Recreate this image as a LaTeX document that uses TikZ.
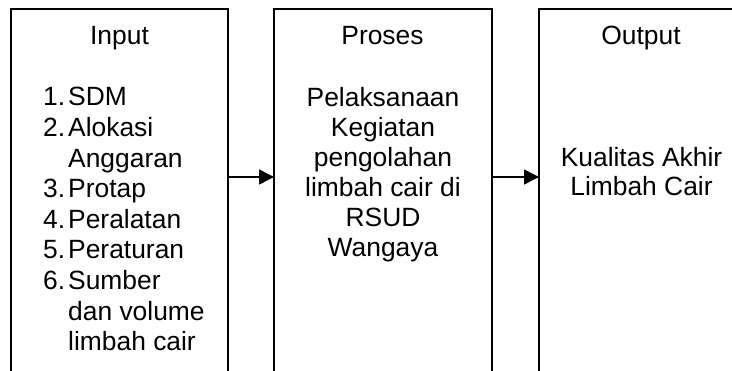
\documentclass[tikz,border=0pt]{standalone}
\usepackage{fontspec}
\setmainfont{Liberation Sans}
\usetikzlibrary{arrows.meta}
\begin{document}
\begin{tikzpicture}[x=1pt,y=-1pt,
  box/.style={draw, line width=1.5pt, outer sep=0pt, inner sep=0pt, anchor=north west, minimum height=400pt},
  txt/.style={inner sep=0pt, font=\fontsize{26.4}{30}\selectfont},
  arr/.style={line width=1.5pt, -{Triangle[length=15pt,width=15pt]}}]
\useasboundingbox (0,0) rectangle (732,371);
\clip (0,0) rectangle (732,371);
\node[box, minimum width=217pt] (in) at (11,9) {};
\node[box, minimum width=218pt] (pro) at (274,9) {};
\node[box, minimum width=230pt] (out) at (539,9) {};
\coordinate (ay) at (0,177);
\draw[arr] (in.east |- ay) -- (pro.west |- ay);
\draw[arr] (pro.east |- ay) -- (out.west |- ay);
% headers
\node[txt, anchor=base] (hin) at (119.5,45) {Input};
\node[txt, anchor=base] (hpro) at (382.5,45) {Proses};
\node[txt, anchor=base] (hout) at (641,45) {Output};
% input list
\foreach \n/\t/\y [count=\i] in {1./SDM/106, 2./Alokasi/136.6, /Anggaran/167.2, 3./Protap/197.8, 4./Peralatan/228.4, 5./Peraturan/259, 6./Sumber/289.6, /dan volume/320.2, /limbah cair/350.8}{
  \node[txt, anchor=base west] (num\i) at (43,\y) {\n};
  \node[txt, anchor=base west] (item\i) at (68,\y) {\t};
}
% process text
\foreach \t/\y [count=\i] in {Pelaksanaan/106.5, Kegiatan/136.5, pengolahan/166.5, limbah cair di/196.5, RSUD/226.5, Wangaya/256.5}{
  \node[txt, anchor=base] (p\i) at (383,\y) {\t};
}
% output text
\node[txt, anchor=base] (o1) at (641.5,166.5) {Kualitas Akhir};
\node[txt, anchor=base] (o2) at (641.5,196) {Limbah Cair};
\end{tikzpicture}
\end{document}
